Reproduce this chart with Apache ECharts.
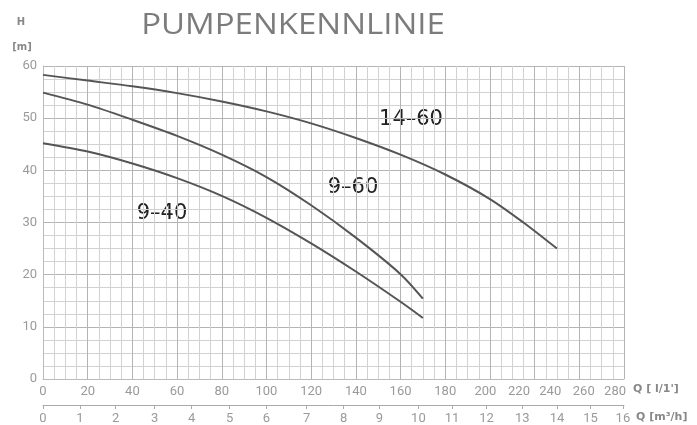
<!DOCTYPE html>
<html>
<head>
<meta charset="utf-8">
<script src="https://cdn.jsdelivr.net/npm/echarts@6/dist/echarts.min.js"></script>
<style>html,body{margin:0;padding:0;background:#fff;}#c{width:697px;height:425px;}</style>
</head>
<body>
<div id="c"></div>
<script>
// Flow positions are in grid units (major grid line every 20 l/min)
const flow940 = [0, 20, 40, 60, 80, 100, 120, 140, 160, 170];
const head940 = [45.2, 43.6, 41.3, 38.5, 35.1, 30.9, 26.0, 20.6, 14.8, 11.7];
const flow960 = [0, 20, 40, 60, 80, 100, 120, 140, 160, 170];
const head960 = [54.9, 52.6, 49.7, 46.6, 43.0, 38.7, 33.3, 27.1, 20.1, 15.4];
const flow1460 = [0, 20, 40, 60, 80, 100, 120, 140, 160, 180, 200, 215, 230];
const head1460 = [58.3, 57.2, 56.1, 54.8, 53.2, 51.3, 49.0, 46.2, 43.0, 39.2, 34.5, 30.0, 25.0];
const seriesNames = ['9–40', '9–60', '14–60'];

// tick labels of the l/min axis and where the reference prints them
const qLabels = ['0','20','40','60','80','100','120','140','160','180','200','220','240','260','280'];
const qLabelAt = [0, 20, 40, 60, 80, 100, 120, 140, 160, 180, 198, 213, 227, 242, 256];
// tick labels of the m3/h axis and where the reference prints them
const m3Labels = ['0','1','2','3','4','5','6','7','8','9','10','11','12','13','14','15','16'];
const m3LabelAt = [0, 16.5, 32.5, 50, 66.5, 83.5, 100, 118, 134.5, 150.5, 168, 183, 198.5, 214.5, 230, 245, 259.5];

const zip = (xs, ys) => xs.map((x, i) => [x, ys[i]]);
const lookup = (vals, labels) => (v) => {
  const i = vals.findIndex(p => Math.abs(p - v) < 1e-6);
  return i >= 0 ? labels[i] : '';
};

const chart = echarts.init(document.getElementById('c'), null, {renderer: 'canvas'});
const tickFont = {color: '#9a9a9a', fontSize: 13, fontFamily: 'Roboto'};
const lineStyle = {color: '#555', width: 2};

chart.setOption({
  animation: false,
  backgroundColor: '#fff',
  grid: {left: 43, top: 66, right: 73, bottom: 43, containLabel: false},
  xAxis: [{
    type: 'value', min: 0, max: 260, interval: 20, position: 'bottom',
    name: "Q [ l/1']", nameLocation: 'end', nameGap: 9,
    nameTextStyle: {color: '#888', fontSize: 11, fontWeight: 'bold', fontFamily: 'DejaVu Sans', verticalAlign: 'top', padding: [5, 0, 0, 0]},
    axisLine: {show: true, lineStyle: {color: '#bbb'}},
    axisTick: {show: false},
    axisLabel: Object.assign({customValues: qLabelAt, formatter: lookup(qLabelAt, qLabels), margin: 6}, tickFont),
    splitLine: {show: true, lineStyle: {color: '#b4b4b4', width: 1}},
    minorTick: {show: false, splitNumber: 4},
    minorSplitLine: {show: true, lineStyle: {color: '#d2d2d2', width: 1}}
  }, {
    type: 'value', min: 0, max: 260, position: 'bottom', offset: 26,
    name: 'Q [m³/h]', nameLocation: 'end', nameGap: 9,
    nameTextStyle: {color: '#888', fontSize: 11, fontWeight: 'bold', fontFamily: 'DejaVu Sans', verticalAlign: 'top', padding: [7, 0, 0, 0]},
    axisLine: {show: true, lineStyle: {color: '#aaa'}},
    axisTick: {show: true, inside: false, length: 4, customValues: m3LabelAt, lineStyle: {color: '#aaa'}},
    axisLabel: Object.assign({customValues: m3LabelAt, formatter: lookup(m3LabelAt, m3Labels), margin: 7}, tickFont),
    splitLine: {show: false}
  }],
  yAxis: {
    type: 'value', min: 0, max: 60, interval: 10,
    axisLine: {show: true, lineStyle: {color: '#bbb'}},
    axisTick: {show: false},
    axisLabel: Object.assign({margin: 6}, tickFont),
    splitLine: {show: true, lineStyle: {color: '#b4b4b4', width: 1}},
    minorTick: {show: false, splitNumber: 4},
    minorSplitLine: {show: true, lineStyle: {color: '#d2d2d2', width: 1}}
  },
  series: [
    {name: seriesNames[0], type: 'line', data: zip(flow940, head940), smooth: 0.3, showSymbol: false, lineStyle},
    {name: seriesNames[1], type: 'line', data: zip(flow960, head960), smooth: 0.3, showSymbol: false, lineStyle},
    {name: seriesNames[2], type: 'line', data: zip(flow1460, head1460), smooth: 0.3, showSymbol: false, lineStyle}
  ],
  graphic: [
    {type: 'text', x: 293, y: 25, scaleX: 1.1, style: {text: 'PUMPENKENNLINIE', fill: '#7c7c7c', font: '30px "Open Sans"', textAlign: 'center', textVerticalAlign: 'middle'}},
    {type: 'text', x: 21, y: 22, style: {text: 'H', fill: '#888', font: 'bold 10px "DejaVu Sans"', textAlign: 'center', textVerticalAlign: 'middle'}},
    {type: 'text', x: 22, y: 47, style: {text: '[m]', fill: '#888', font: 'bold 10px "DejaVu Sans"', textAlign: 'center', textVerticalAlign: 'middle'}},
    {type: 'text', x: 411, y: 120, style: {text: seriesNames[2], fill: '#222', font: '21px "DejaVu Sans"', textAlign: 'center', textVerticalAlign: 'middle'}},
    {type: 'text', x: 353, y: 188, style: {text: seriesNames[1], fill: '#222', font: '21px "DejaVu Sans"', textAlign: 'center', textVerticalAlign: 'middle'}},
    {type: 'text', x: 162, y: 214, style: {text: seriesNames[0], fill: '#222', font: '21px "DejaVu Sans"', textAlign: 'center', textVerticalAlign: 'middle'}}
  ]
});
</script>
</body>
</html>
